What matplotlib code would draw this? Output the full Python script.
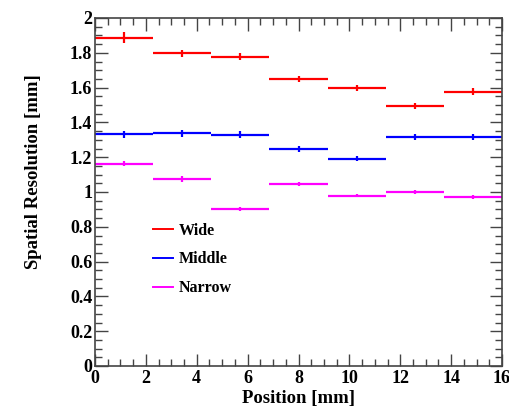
import numpy as np
import matplotlib
matplotlib.use("Agg")
import matplotlib.pyplot as plt
from matplotlib.ticker import MultipleLocator

edges = np.linspace(0, 16, 8)
wide = [1.887, 1.797, 1.778, 1.648, 1.598, 1.494, 1.576]
wide_err = [0.03, 0.02, 0.02, 0.018, 0.018, 0.015, 0.02]
middle = [1.331, 1.337, 1.328, 1.247, 1.191, 1.316, 1.316]
middle_err = [0.02, 0.02, 0.02, 0.015, 0.015, 0.02, 0.02]
narrow = [1.163, 1.075, 0.902, 1.044, 0.979, 1.002, 0.971]
narrow_err = [0.015, 0.015, 0.01, 0.012, 0.01, 0.012, 0.01]
labels = ["Wide", "Middle", "Narrow"]
colors = ["#ff0000", "#0000ff", "#ff00ff"]

plt.rcParams['font.family'] = ['Liberation Serif', 'DejaVu Serif']
plt.rcParams['font.weight'] = 'bold'

fig = plt.figure(figsize=(5.10, 4.07), dpi=100)
ax = fig.add_axes([95/510, 1-366/407, (502-95)/510, (366-18)/407])

centers = 0.5 * (edges[:-1] + edges[1:])
halfw = 0.5 * (edges[1:] - edges[:-1])
for vals, errs, lab, col in zip([wide, middle, narrow], [wide_err, middle_err, narrow_err], labels, colors):
    ax.errorbar(centers, vals, xerr=halfw, yerr=errs, fmt='none', ecolor=col,
                elinewidth=1.6, capsize=0, label=lab)

ax.set_xlim(0, 16)
ax.set_ylim(0, 2)
ax.xaxis.set_major_locator(MultipleLocator(2))
ax.xaxis.set_minor_locator(MultipleLocator(0.5))
ax.yaxis.set_minor_locator(MultipleLocator(0.05))
ax.set_yticks(np.arange(0, 2.01, 0.2))
ax.set_yticklabels(["0", "0.2", "0.4", "0.6", "0.8", "1", "1.2", "1.4", "1.6", "1.8", "2"])
ax.tick_params(which='both', direction='in', top=True, right=True, labelsize=13, width=1.0, color='#444444')
ax.tick_params(which='major', length=9)
ax.tick_params(which='minor', length=5)
ax.tick_params(axis='x', pad=3)
ax.tick_params(axis='y', pad=2)
for lbl in ax.get_xticklabels() + ax.get_yticklabels():
    lbl.set_fontweight('bold')
for s in ax.spines.values():
    s.set_color('#444444')
    s.set_linewidth(1.2)

ax.set_xlabel("Position [mm]", fontsize=13.5, fontweight='bold')
ax.set_ylabel("Spatial Resolution [mm]", fontsize=13.5, fontweight='bold')
ax.xaxis.set_label_coords(0.5, -(390-366)/348)
ax.yaxis.set_label_coords(-(95-42)/407, (366-172)/348)

handles = [plt.Line2D([], [], color=c, lw=1.4) for c in colors]
ax.legend(handles, labels, loc='upper left', bbox_to_anchor=(0.142, 0.412), frameon=False,
          handlelength=1.25, handletextpad=0.35, labelspacing=0.8, borderaxespad=0, borderpad=0,
          prop={'weight': 'bold', 'size': 11.5})

fig.savefig("out.png", dpi=100)
